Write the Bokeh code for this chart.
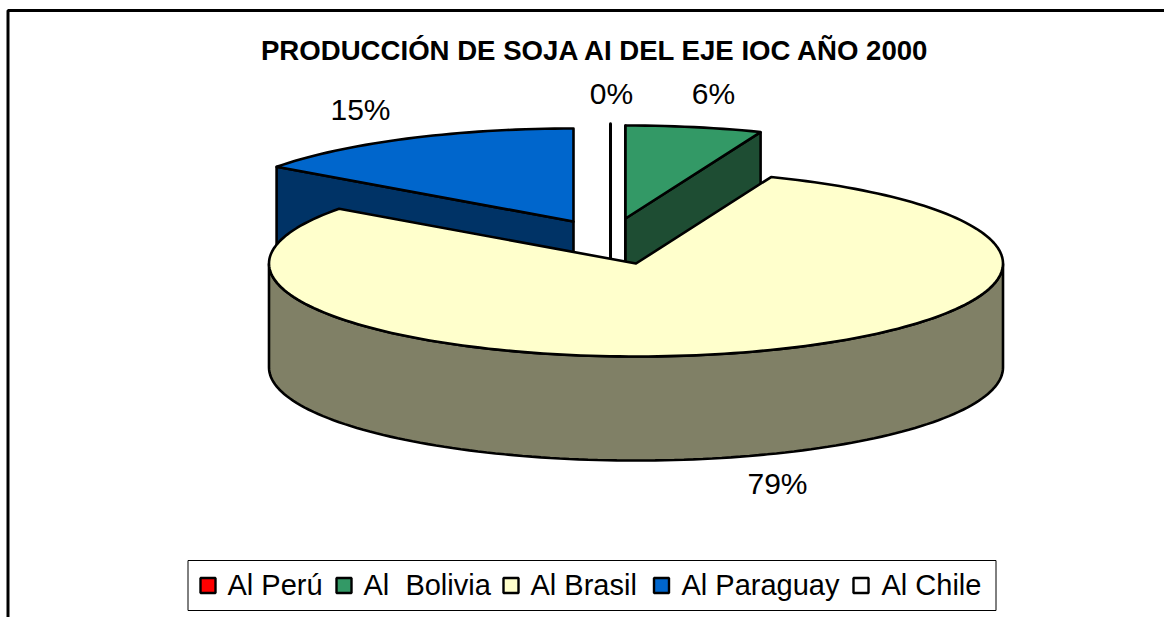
import math
from bokeh.plotting import figure
from bokeh.embed import file_html
from bokeh.resources import INLINE
from bokeh.core.properties import value
from bokeh.models import Range1d

# ---- data ----
categories = ["Al Perú", "Al\u00a0 Bolivia", "Al Brasil", "Al Paraguay", "Al Chile"]
shares = [0.0, 6.0, 79.0, 15.0, 0.0]
pct_labels = ["0%", "6%", "79%", "15%", "0%"]
title = "PRODUCCIÓN DE SOJA AI DEL EJE IOC AÑO 2000"

# ---- styles ----
top_colors = ["#FF0000", "#339966", "#FFFFCC", "#0066CC", "#FFFFFF"]
wall_colors = ["#800000", "#1E4D33", "#808066", "#003366", "#808080"]
# exploded apex of each slice, on screen
apex_x = [625, 625, 635.5, 573, 610]
apex_y = [218, 218, 263, 221, 216]
A, B, DEPTH = 367, 93, 104
LW = 2.6
FONT = value("Liberation Sans")

W, H = 1164, 617
p = figure(width=W, height=H, output_backend="svg", toolbar_location=None,
           x_range=Range1d(0, W), y_range=Range1d(H, 0),
           min_border=0, outline_line_color=None)
p.axis.visible = False
p.grid.visible = False
p.background_fill_color = "white"
p.border_fill_color = "white"

# frame (open at right and bottom, as in the reference)
p.line([7.5, 7.5, W], [H, 10, 10], line_color="black", line_width=3)


def rim(i, a0, a1):
    n = max(2, int(abs(a1 - a0) / 1.5) + 1)
    angs = [a0 + (a1 - a0) * k / (n - 1) for k in range(n)]
    return ([apex_x[i] + A * math.sin(math.radians(t)) for t in angs],
            [apex_y[i] - B * math.cos(math.radians(t)) for t in angs])


def draw_slice(i, a0, a1):
    cx, cy = apex_x[i], apex_y[i]
    xs, ys = rim(i, a0, a1)
    # radial side faces
    if i == 1:  # right radial face visible
        p.patch([cx, xs[-1], xs[-1], cx], [cy, ys[-1], ys[-1] + DEPTH, cy + DEPTH],
                fill_color=wall_colors[i], line_color="black", line_width=LW)
    if i == 3:  # left radial face visible
        p.patch([cx, xs[0], xs[0], cx], [cy, ys[0], ys[0] + DEPTH, cy + DEPTH],
                fill_color=wall_colors[i], line_color="black", line_width=LW)
    if i == 2:  # front outer wall
        lo, hi = max(a0, 90), min(a1, 270)
        wx, wy = rim(i, lo, hi)
        p.patch(wx + wx[::-1], wy + [y + DEPTH for y in wy[::-1]],
                fill_color=wall_colors[i], line_color="black", line_width=LW)
    p.patch([cx] + xs, [cy] + ys, fill_color=top_colors[i],
            line_color="black", line_width=LW, line_join="round")
    if a1 == a0:  # zero-sized slice shows as a single stroke
        p.line([cx, xs[0]], [cy + DEPTH, ys[0]], line_color="black", line_width=3)


# slice angles, clockwise from 12 o'clock
total = sum(shares)
starts, acc = [], 0.0
for s in shares:
    starts.append(acc)
    acc += s / total * 360
ends = [st + s / total * 360 for st, s in zip(starts, shares)]
for i in (4, 3, 0, 1, 2):
    draw_slice(i, starts[i], ends[i])

# title and percentage labels
p.text([595.5], [50], text=[title], text_font=FONT, text_font_style="bold",
       text_font_size="27.6px", text_align="center", text_baseline="middle",
       text_color="black")
label_x = [611, 713, 777, 360]
label_y = [93, 93, 482.5, 108.5]
p.text(label_x, label_y, text=pct_labels[:4], text_font=FONT, text_font_size="30px",
       text_align="center", text_baseline="middle", text_color="black")

# legend
p.quad(left=[187.5], right=[995.5], top=[560], bottom=[610], fill_color="white",
       line_color="black", line_width=1)
sw_x = [207.5, 343.5, 510.5, 661, 860.5]
tx_x = [227, 363, 530, 681, 881]
p.rect(sw_x, [585] * 5, width=15, height=15, fill_color=top_colors,
       line_color="black", line_width=2.4)
p.text(tx_x, [584] * 5, text=categories, text_font=FONT, text_font_size="29px",
       text_align="left", text_baseline="middle", text_color="black")

open("out.html", "w").write(file_html(p, INLINE))
